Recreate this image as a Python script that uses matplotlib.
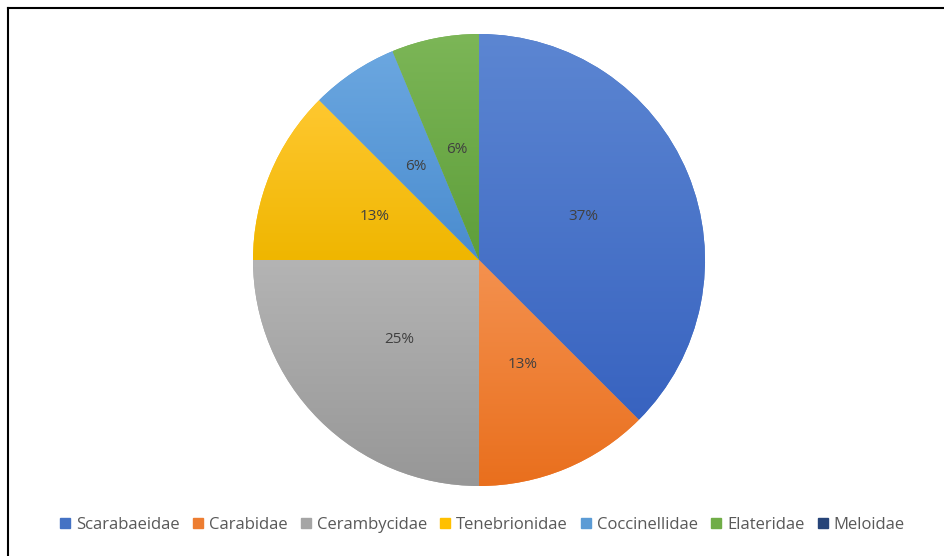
import numpy as np
import matplotlib
matplotlib.use('Agg')
import matplotlib.pyplot as plt
from matplotlib.colors import LinearSegmentedColormap
from matplotlib.lines import Line2D

# Dades
families = ['Scarabaeidae', 'Carabidae', 'Cerambycidae', 'Tenebrionidae',
            'Coccinellidae', 'Elateridae', 'Meloidae']
counts = [6, 2, 4, 2, 1, 1, 0]
pct_labels = ['37%', '13%', '25%', '13%', '6%', '6%', '']

# Colors (part de dalt, part de baix del degradat)
top_colors = ['#5C86D2', '#F4914F', '#B4B4B4', '#FFC830', '#6BA7E0', '#7CB657', '#2C4C85']
bot_colors = ['#3863C0', '#E96F1D', '#979797', '#EFB600', '#4A8CCF', '#5E9E3A', '#203E70']
legend_colors = ['#4472C4', '#ED7D31', '#A5A5A5', '#FFC000', '#5B9BD5', '#70AD47', '#264478']

plt.rcParams['font.family'] = ['Open Sans', 'DejaVu Sans']

fig = plt.figure(figsize=(9.44, 5.56), dpi=100)
W, H = 944, 556
cx, cy, r = 479, 260, 226
ax = fig.add_axes([(cx - r) / W, (H - cy - r) / H, 2 * r / W, 2 * r / H])

wedges, texts = ax.pie(counts, startangle=90, counterclock=False,
                       colors=legend_colors, labels=pct_labels,
                       labeldistance=0.5, radius=1,
                       wedgeprops=dict(linewidth=0))
for t in texts:
    t.set_ha('center')
    t.set_va('center')
    t.set_fontsize(11)
    t.set_color('#404040')
    t.set_zorder(5)

# Degradat vertical dins de cada sector
grad = np.linspace(0, 1, 256).reshape(-1, 1)
for w, ct, cb in zip(wedges, top_colors, bot_colors):
    verts = w.get_path().vertices
    if len(verts) == 0:
        continue
    x0, x1 = verts[:, 0].min(), verts[:, 0].max()
    y0, y1 = verts[:, 1].min(), verts[:, 1].max()
    if x1 - x0 < 1e-6 or y1 - y0 < 1e-6:
        continue
    cmap = LinearSegmentedColormap.from_list('g', [cb, ct])
    im = ax.imshow(grad, cmap=cmap, extent=(x0, x1, y0, y1), origin='lower',
                   aspect='auto', zorder=2, interpolation='bilinear')
    im.set_clip_path(w)

ax.set_xlim(-1, 1)
ax.set_ylim(-1, 1)
ax.set_aspect('auto')
ax.axis('off')

# Llegenda
handles = [Line2D([0], [0], marker='s', linestyle='none', markersize=7,
                  markerfacecolor=c, markeredgecolor=c) for c in legend_colors]
leg = fig.legend(handles, families, loc='center', ncol=7,
                 bbox_to_anchor=(482 / W, 1 - 525 / H), frameon=False,
                 handlelength=0.7, handletextpad=0.3, columnspacing=0.75,
                 fontsize=12)
for t in leg.get_texts():
    t.set_color('#595959')

# Marc (només dalt i esquerra)
fig.add_artist(Line2D([7.5 / W, 7.5 / W], [0, 1 - 8 / H], color='black', linewidth=1.5))
fig.add_artist(Line2D([7.5 / W, 1], [1 - 8 / H, 1 - 8 / H], color='black', linewidth=1.5))

fig.savefig('out.png', dpi=100)
